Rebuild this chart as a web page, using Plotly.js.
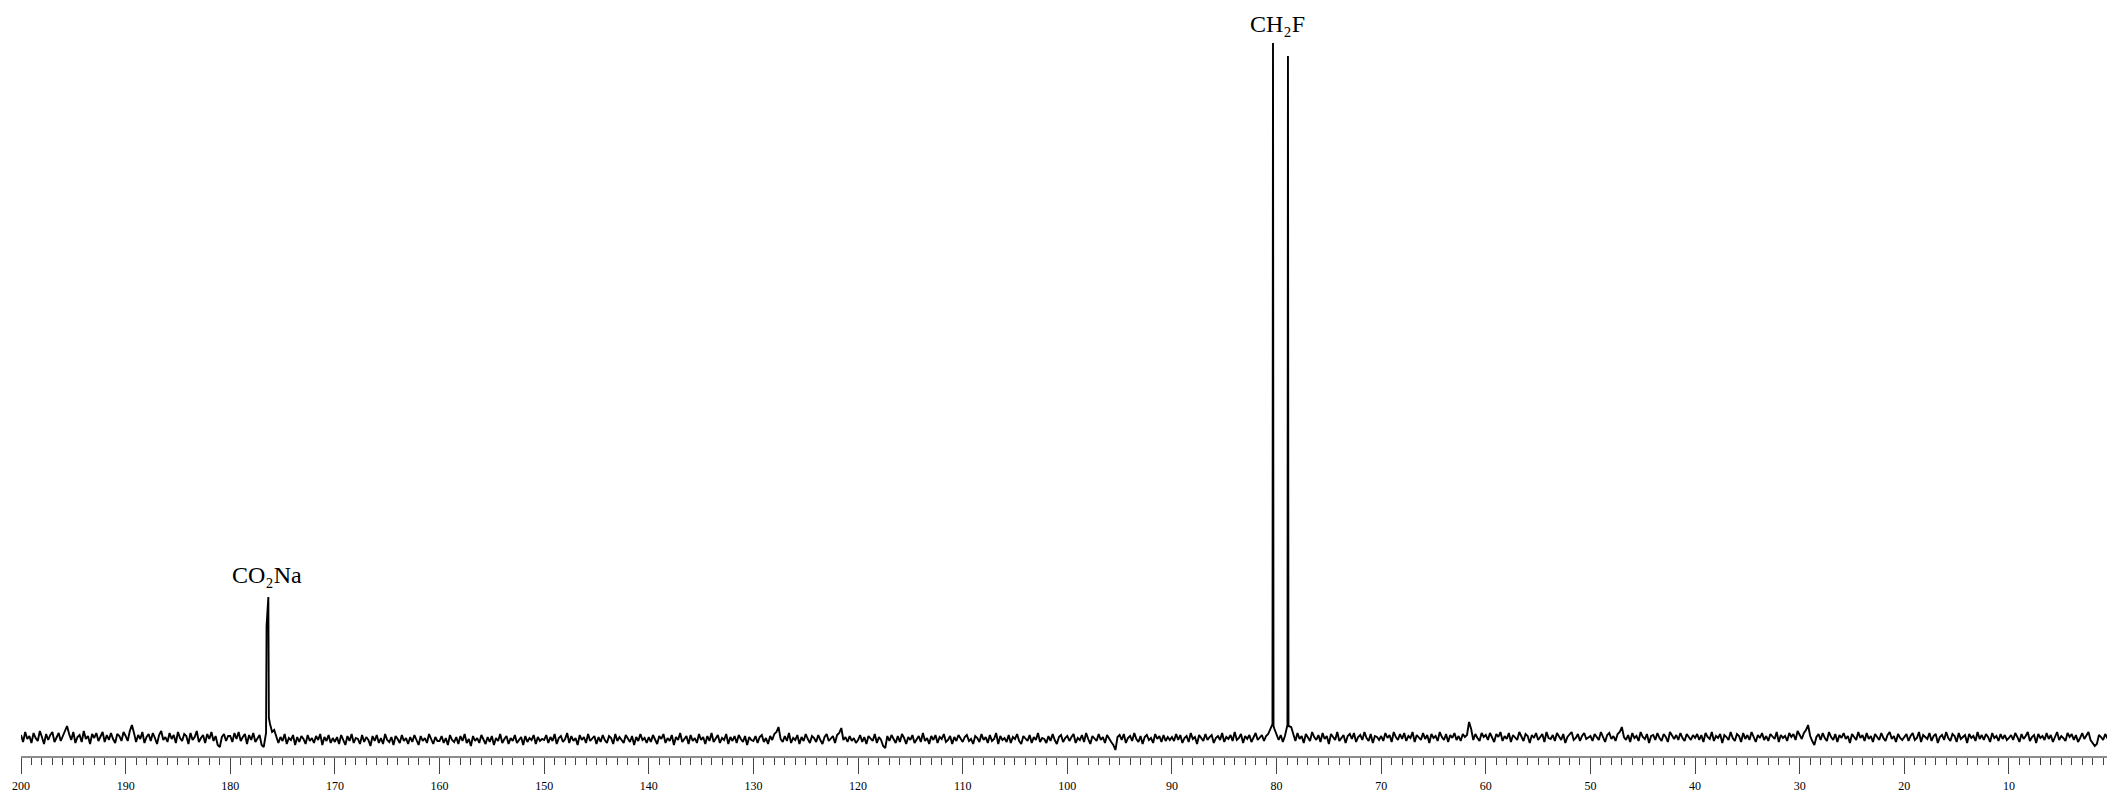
<!DOCTYPE html>
<html>
<head>
<meta charset="utf-8">
<script src="https://cdn.plot.ly/plotly-3.0.1.min.js"></script>
<style>html,body{margin:0;padding:0;background:#fff;}#chart{width:2107px;height:792px;}</style>
</head>
<body>
<div id="chart"></div>
<script>
// 13C NMR spectrum, chemical shift (ppm) vs intensity (arbitrary units)
// Baseline sampling grid: starts at 200 ppm, one reading every 0.2 ppm
var gridStartPpm = 200;
var gridStepPpm = 0.2;

// Baseline readings (noise), 50 per 10 ppm, from 200 ppm downwards
var baselineNoise = [
  3,-4,6,-1,2,-5,5,0,-3,7,1,-6,4,-2,3,6,-4,0,5,-3,2,8,12,4,-2,6,-5,1,3,-4,7,-1,2,-6,4,0,5,-3,1,6,-4,3,-2,5,-1,-5,4,2,-3,6,
  2,-3,7,13,5,-4,3,-1,6,-5,1,4,-3,5,0,-6,3,7,-2,1,-4,5,-1,3,-5,6,0,-3,4,2,-6,5,-2,1,7,-4,0,3,-5,4,-1,6,-3,2,-7,-9,1,4,-3,2,
  2,-4,5,-1,6,-3,1,4,-6,3,-2,5,-4,0,3,-7,-9,0,0,14,6,8,2,-5,1,-3,4,-6,0,-2,3,-7,1,-4,2,-1,-6,3,-3,0,-5,2,-2,4,-7,1,-3,3,-5,0,
  -4,1,-6,3,-2,-7,2,-3,4,-5,0,-1,-6,3,-4,1,-2,-8,2,-3,3,-5,0,-6,4,-2,-4,1,-7,2,-1,-5,3,-3,0,-6,1,-4,3,-2,-7,2,-3,0,-5,4,-1,-6,1,-3,
  -3,2,-5,0,-7,3,-2,-4,1,-6,2,-3,4,-5,-1,-8,2,-3,0,-5,3,-2,-6,1,-4,2,-7,0,-3,4,-5,-1,2,-6,0,-3,3,-5,-2,1,-7,2,-4,0,-2,3,-6,1,-3,-1,
  -2,3,-5,1,-3,4,-6,0,2,-4,-1,5,-5,2,-3,0,-7,3,-2,1,-5,4,-3,-1,2,-6,1,-4,3,-2,-5,2,0,-6,4,-3,1,-2,-5,3,-1,-4,2,-7,1,-3,4,-2,0,-5,
  1,-4,3,-2,-6,2,-1,4,-5,0,-3,3,-7,1,-2,5,-4,-1,2,-6,3,-3,0,-5,4,-2,1,-6,2,-3,5,-4,-1,3,-5,0,-2,4,-6,1,-3,2,-5,3,-1,-4,2,-7,1,-2,
  -3,2,-5,1,3,-4,0,-6,2,-2,4,6,11,-1,-4,2,-3,5,-5,0,-2,3,-6,1,-3,4,-1,-5,2,0,-4,3,-2,-6,1,4,-3,-1,2,-5,3,5,10,-2,1,-4,2,-3,0,-5,
  -2,3,-4,1,-6,2,0,-3,4,-5,1,-2,-8,-10,2,-3,3,-1,-5,2,-4,4,0,-6,1,-2,3,-5,-1,2,-4,5,-3,0,-6,2,-2,3,-5,1,-1,4,-4,-2,2,-6,1,-3,3,-1,
  -4,1,3,-3,-1,-6,2,0,-4,4,-2,1,-5,3,-3,-1,5,-6,2,-2,0,-4,3,-5,1,-1,4,-3,-6,2,0,-3,3,-5,1,-2,5,-4,0,-1,-5,2,-3,4,-2,-6,1,3,-4,0,
  2,-3,1,4,-5,0,-2,3,-4,5,-1,-6,2,0,-3,4,-2,1,-5,3,-1,-4,-7,-12,1,3,-2,4,-5,0,2,-3,5,-1,-4,2,-6,1,3,-2,0,-5,4,-1,2,-4,3,-3,1,-2,
  1,-3,4,-2,3,-5,0,2,-4,5,-1,1,-6,3,0,-3,4,-2,1,3,-5,0,2,-2,5,-4,1,-1,3,-3,6,-2,0,4,-5,2,-1,3,-4,1,5,-2,0,3,-3,2,4,10,0,9,
  4,-2,3,-4,2,0,0,11,3,-3,5,-1,2,-5,4,0,-3,6,1,-2,3,-4,5,-1,2,-6,4,1,-2,6,-3,0,3,-5,2,4,-1,5,-4,1,3,-2,6,0,-3,4,-5,2,1,-2,
  2,-3,5,0,3,-4,6,1,-2,4,-1,5,-3,2,0,6,-4,3,1,-2,5,-1,3,-5,4,0,2,-3,6,1,-2,4,-4,3,0,5,-2,2,-3,4,1,3,16,9,-2,4,0,-3,5,1,
  3,-2,5,0,-4,4,1,6,-3,2,-1,5,-4,3,0,-2,6,1,-3,4,2,-5,3,0,5,-2,1,4,-4,6,0,-1,3,-3,5,2,-2,4,-5,1,3,6,-2,0,4,-3,2,5,-1,1,
  2,-3,4,1,-2,6,0,-4,3,5,-1,2,-3,4,6,11,1,-2,3,-4,5,0,2,-3,6,1,-1,4,-5,2,3,-2,5,0,-3,4,1,-4,6,2,-1,3,-2,5,0,-3,4,1,-2,3,
  0,4,-2,3,-4,5,1,-1,6,-3,2,0,4,-5,3,1,-2,6,0,-3,4,2,-4,5,-1,3,-2,6,1,-4,3,0,5,-2,2,-3,4,1,-1,6,-4,3,0,2,-3,5,1,4,-2,7,
  3,-1,5,8,13,2,-3,-7,1,4,-2,5,0,-3,6,1,-2,4,-4,3,0,5,-1,2,-5,4,1,-2,6,0,3,-3,5,-1,2,-4,4,1,-2,5,0,-3,3,6,-1,2,-4,4,0,-2,
  1,4,-3,2,5,-2,0,6,-4,3,1,-1,5,-3,2,4,-5,1,3,-2,6,0,-3,4,2,-4,5,-1,1,3,-5,4,0,2,-3,6,-1,3,-2,4,1,-4,5,0,2,-3,4,-1,3,-2,
  0,3,-2,5,1,-4,4,-1,2,6,-3,1,3,-5,4,0,2,-2,5,-1,3,-4,1,6,-2,2,0,-3,5,1,4,-2,3,-4,0,5,-1,2,6,-2,-5,-8,-6,3,1,-2,4,0,2,-1
];

// Resonance lines: position, top intensity, and intensity at the foot on each side (null = none)
var peakPpm       = [176.53, 176.36, 80.34, 78.91];
var peakHeight    = [112, 141, 695, 682];
var peakFootLeft  = [5, null, 14, 13];
var peakFootRight = [null, 20, 12, 12];

// Peak labels
var labelText = ['CO\u2082Na', 'CH\u2082F'];
var labelPpm  = [176.46, 79.92];
var labelY    = [163, 714];

// Axis ticks
var tickPpm = [200,190,180,170,160,150,140,130,120,110,100,90,80,70,60,50,40,30,20,10];
var tickText = tickPpm.map(String);

// build spectrum trace
var footOffset = 0.05;
var pts = [];
for (var i = 0; i < baselineNoise.length; i++) {
  var x = +(gridStartPpm - i * gridStepPpm).toFixed(3);
  var near = peakPpm.some(function(p){ return Math.abs(p - x) < 0.12; });
  if (!near) pts.push([x, baselineNoise[i]]);
}
for (var j = 0; j < peakPpm.length; j++) {
  pts.push([peakPpm[j], peakHeight[j]]);
  if (peakFootLeft[j] !== null) pts.push([peakPpm[j] + footOffset, peakFootLeft[j]]);
  if (peakFootRight[j] !== null) pts.push([peakPpm[j] - footOffset, peakFootRight[j]]);
}
pts.sort(function(a, b){ return b[0] - a[0]; });

var trace = {
  x: pts.map(function(p){ return p[0]; }),
  y: pts.map(function(p){ return p[1]; }),
  type: 'scatter',
  mode: 'lines',
  line: {color: '#000', width: 1.9},
  hoverinfo: 'skip'
};

var annotations = labelText.map(function(t, k){
  return {x: labelPpm[k], y: labelY[k], xref: 'x', yref: 'y', text: t, showarrow: false,
          xanchor: 'center', yanchor: 'middle',
          font: {family: 'Liberation Serif, Times New Roman, serif', size: 24, color: '#000'}};
});

var layout = {
  width: 2107, height: 792,
  margin: {l: 21, r: 0, t: 0, b: 36, pad: 0},
  paper_bgcolor: '#fff', plot_bgcolor: '#fff',
  showlegend: false,
  xaxis: {
    range: [200, 0.63], autorange: false,
    showgrid: false, zeroline: false,
    showline: true, linecolor: '#8c8c8c', linewidth: 2,
    ticks: 'outside', ticklen: 16, tickwidth: 1, tickcolor: '#444',
    tickmode: 'array', tickvals: tickPpm, ticktext: tickText,
    ticklabelstandoff: 2,
    tickfont: {family: 'Liberation Serif, Times New Roman, serif', size: 12, color: '#000'},
    minor: {dtick: 1, tick0: 0, ticks: 'outside', ticklen: 7, tickwidth: 1, tickcolor: '#444', showgrid: false}
  },
  yaxis: {range: [-18, 738], autorange: false, visible: false, showgrid: false, zeroline: false},
  annotations: annotations
};

Plotly.newPlot('chart', [trace], layout, {displayModeBar: false, staticPlot: true});
</script>
</body>
</html>
